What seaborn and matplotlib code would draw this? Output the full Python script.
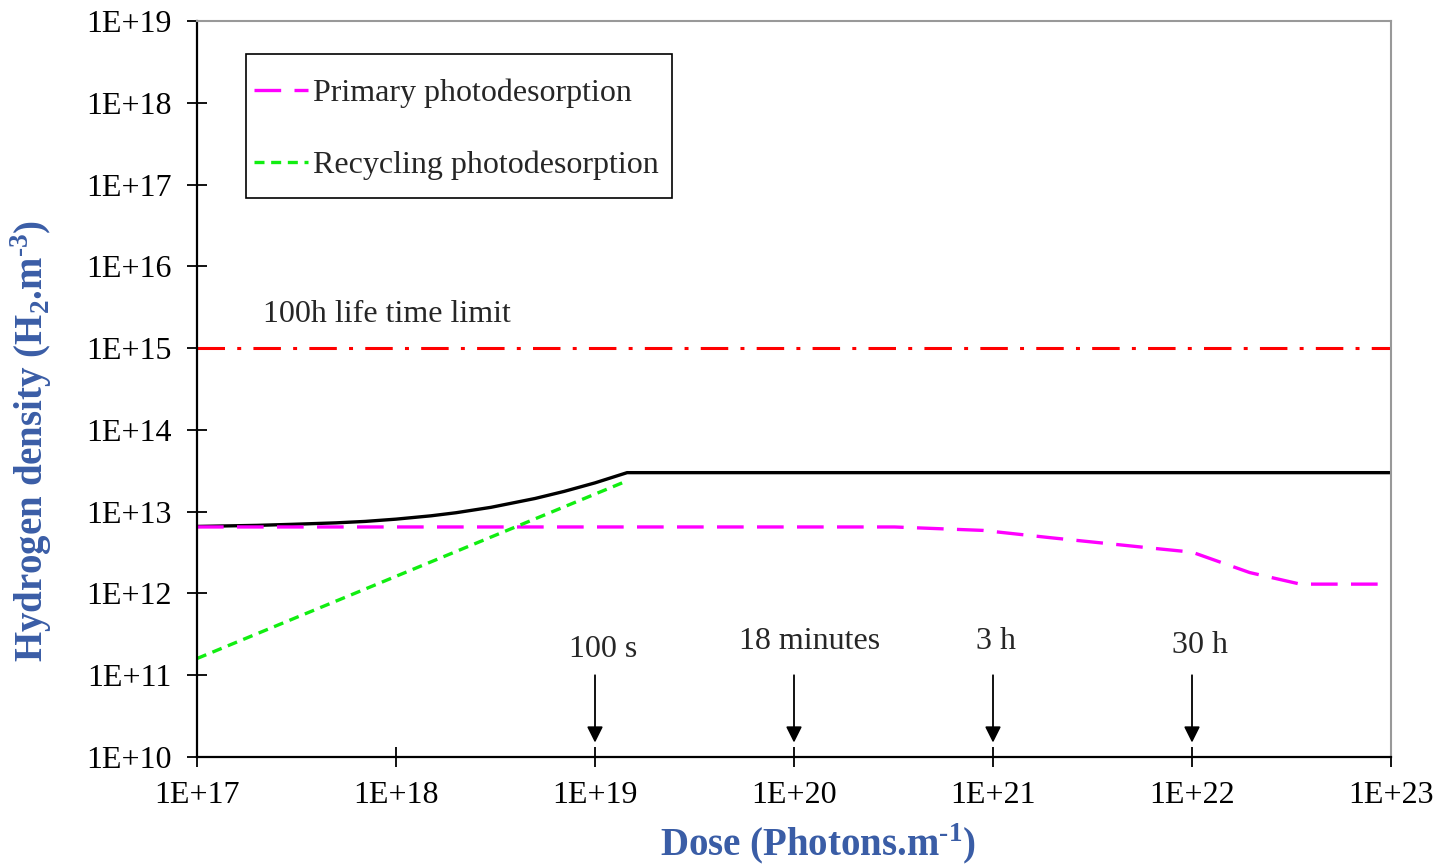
import numpy as np
import pandas as pd
import seaborn as sns
import matplotlib.pyplot as plt
from matplotlib.patches import Rectangle
from matplotlib.ticker import FixedLocator, FuncFormatter, NullLocator

# Data
primary_dose = [1e17, 1e19, 3.2e20, 8.9e20, 1.95e21, 6.9e21, 1.0e22, 1.95e22, 3.5e22, 1e23]
primary_density = [6.5e12, 6.5e12, 6.5e12, 5.9e12, 4.8e12, 3.5e12, 3.2e12, 1.8e12, 1.3e12, 1.3e12]

recycling_dose = [1e17, 1.4e19]
recycling_density = [1.6e11, 2.3e13]

total_dose = [1e17, 2e17, 3e17, 5e17, 7e17, 1e18, 1.5e18, 2e18, 3e18, 5e18, 7e18, 1e19, 1.45e19, 1e23]
total_density = [6.6e12, 6.8e12, 7.0e12, 7.3e12, 7.6e12, 8.1e12, 8.9e12, 9.7e12, 1.13e13,
                 1.45e13, 1.77e13, 2.25e13, 3.0e13, 3.0e13]

limit_dose = [1e17, 1e23]
limit_density = [1e15, 1e15]

# time markers along the dose axis
marker_dose = [1e19, 1e20, 1e21, 1e22]
marker_labels = ['100 s', '18 minutes', '3 h', '30 h']
marker_label_x = [1.1e19, 1.2e20, 1.03e21, 1.1e22]
marker_label_y = [2.05e11, 2.6e11, 2.6e11, 2.3e11]

x_ticks = [1e17, 1e18, 1e19, 1e20, 1e21, 1e22, 1e23]
y_ticks = [1e10, 1e11, 1e12, 1e13, 1e14, 1e15, 1e16, 1e17, 1e18, 1e19]

sns.set_style('ticks')
plt.rcParams['font.family'] = ['Liberation Serif', 'DejaVu Serif']
plt.rcParams['mathtext.fontset'] = 'custom'
plt.rcParams['mathtext.rm'] = 'Liberation Serif'
plt.rcParams['mathtext.bf'] = 'Liberation Serif:bold'

label_blue = '#3A5DA6'
W, H = 1437, 866

fig = plt.figure(figsize=(W / 100, H / 100), dpi=100)
ax = fig.add_axes([197 / W, 1 - 757 / H, 1194 / W, 736 / H])

df_prim = pd.DataFrame({'dose': primary_dose, 'density': primary_density})
df_rec = pd.DataFrame({'dose': recycling_dose, 'density': recycling_density})
df_tot = pd.DataFrame({'dose': total_dose, 'density': total_density})
df_lim = pd.DataFrame({'dose': limit_dose, 'density': limit_density})

sns.lineplot(data=df_lim, x='dose', y='density', ax=ax, color='#FF0000', lw=2.2,
             linestyle=(0, (9, 4, 1.3, 4)), estimator=None)
sns.lineplot(data=df_tot, x='dose', y='density', ax=ax, color='black', lw=2.4, estimator=None)
sns.lineplot(data=df_prim, x='dose', y='density', ax=ax, color='#FF00FF', lw=2.4,
             linestyle=(0, (8, 4)), estimator=None, label='Primary photodesorption')
sns.lineplot(data=df_rec, x='dose', y='density', ax=ax, color='#11EE11', lw=2.4,
             linestyle=(0, (3, 2)), estimator=None, label='Recycling photodesorption')

ax.set_xscale('log')
ax.set_yscale('log')
ax.set_xlim(1e17, 1e23)
ax.set_ylim(1e10, 1e19)

fmt = FuncFormatter(lambda v, p: '1E+%d' % int(round(np.log10(v))))
ax.xaxis.set_major_locator(FixedLocator(x_ticks))
ax.yaxis.set_major_locator(FixedLocator(y_ticks))
ax.xaxis.set_minor_locator(NullLocator())
ax.yaxis.set_minor_locator(NullLocator())
ax.xaxis.set_major_formatter(fmt)
ax.yaxis.set_major_formatter(fmt)
ax.tick_params(axis='both', which='major', direction='inout', length=14, width=1.3,
               labelsize=23, color='black', labelcolor='black')
ax.tick_params(axis='x', pad=10)
ax.tick_params(axis='y', pad=11)

for side in ['left', 'bottom']:
    ax.spines[side].set_color('black')
    ax.spines[side].set_linewidth(1.6)
for side in ['top', 'right']:
    ax.spines[side].set_visible(True)
    ax.spines[side].set_color('#999999')
    ax.spines[side].set_linewidth(1.5)

# arrows for exposure times
for d, lab, lx, ly in zip(marker_dose, marker_labels, marker_label_x, marker_label_y):
    ax.annotate('', xy=(d, 1.5e10), xytext=(d, 1e11),
                arrowprops=dict(arrowstyle='-|>', color='black', lw=1.3,
                                mutation_scale=24, shrinkA=0, shrinkB=0))
    ax.text(lx, ly, lab, ha='center', va='center', fontsize=23)

ax.text(2.15e17, 2.6e15, '100h life time limit', ha='left', va='center', fontsize=23)

ax.set_xlabel('Dose (Photons.m$^\\mathbf{\u2010 1}$)', fontsize=28, fontweight='bold', color=label_blue)
ax.set_ylabel('Hydrogen density (H$_\\mathbf{2}$.m$^\\mathbf{\u2010 3}$)', fontsize=28,
              fontweight='bold', color=label_blue)
ax.xaxis.set_label_coords(0.52, -0.088)
ax.yaxis.set_label_coords(-0.12, 0.43)

# legend entries without frame, frame drawn as a plain box
leg = ax.legend(loc='upper left', bbox_to_anchor=((254 - 197) / 1194, (757 - 79) / 736),
                borderaxespad=0, borderpad=0, fontsize=23, frameon=False,
                handlelength=1.7, handletextpad=0.15, labelspacing=1.33)
ax.add_patch(Rectangle(((246 - 197) / 1194, (757 - 198) / 736), 426 / 1194, 144 / 736,
                       transform=ax.transAxes, fill=False, edgecolor='black', lw=1.2,
                       zorder=5))

fig.savefig('out.png', dpi=100, facecolor='white')
